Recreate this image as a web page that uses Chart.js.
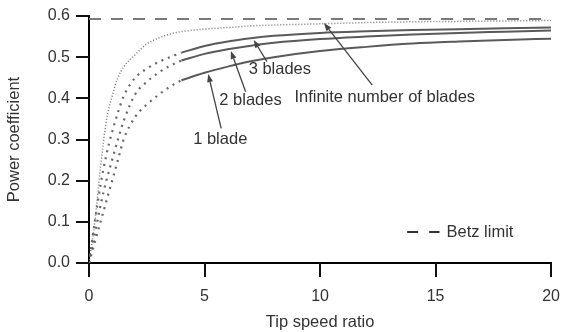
<!DOCTYPE html>
<html>
<head>
<meta charset="utf-8">
<script src="https://cdn.jsdelivr.net/npm/chart.js@4/dist/chart.umd.min.js"></script>
<style>
  html, body { margin: 0; padding: 0; background: #fff; }
  #wrap { width: 571px; height: 332px; }
</style>
</head>
<body>
<div id="wrap"><canvas id="c" width="571" height="332"></canvas></div>
<script>
// ---- data ----
const tsrLow  = [0, 0.25, 0.5, 0.75, 1, 1.25, 1.5, 2, 2.5, 3, 3.5, 4];
const tsrHigh = [4, 5, 6, 7, 8, 10, 12, 14, 16, 18, 20];
const tsrInf  = [0, 0.25, 0.5, 0.75, 1, 1.25, 1.5, 2, 2.5, 3, 3.5, 4, 5, 6, 7, 8, 10, 12, 14, 16, 18, 20];

const cpInfinite = [0, 0.1, 0.234, 0.345, 0.405, 0.45, 0.476, 0.506, 0.532, 0.546, 0.556, 0.562, 0.568, 0.572, 0.576, 0.578, 0.581, 0.584, 0.586, 0.587, 0.588, 0.589];

const cp3Low  = [0, 0.10, 0.19, 0.262, 0.318, 0.365, 0.405, 0.45, 0.472, 0.488, 0.50, 0.511];
const cp2Low  = [0, 0.07, 0.14, 0.20, 0.25, 0.30, 0.345, 0.41, 0.44, 0.462, 0.479, 0.492];
const cp1Low  = [0, 0.05, 0.10, 0.15, 0.20, 0.25, 0.30, 0.355, 0.385, 0.408, 0.428, 0.444];

const cp3High = [0.511, 0.527, 0.538, 0.546, 0.552, 0.559, 0.563, 0.566, 0.568, 0.570, 0.572];
const cp2High = [0.492, 0.508, 0.519, 0.528, 0.535, 0.544, 0.550, 0.555, 0.559, 0.562, 0.565];
const cp1High = [0.444, 0.462, 0.477, 0.490, 0.500, 0.515, 0.525, 0.533, 0.538, 0.542, 0.545];

const betzLimit = 0.593;
const betzRange = [0, 20];

const xTicks = [0, 5, 10, 15, 20];
const yTicks = [0.0, 0.1, 0.2, 0.3, 0.4, 0.5, 0.6];

// annotation texts, anchored in data units
const noteTexts = ['3 blades', '2 blades', '1 blade', 'Infinite number of blades'];
const noteAt    = [[8.26, 0.469], [6.99, 0.396], [5.68, 0.299], [12.8, 0.403]];
const arrowFrom = [[7.70, 0.489], [6.78, 0.416], [5.72, 0.327], [12.26, 0.432]];
const arrowTo   = [[7.13, 0.542], [6.14, 0.515], [5.16, 0.459], [10.17, 0.583]];
const legendText = 'Betz limit';
const legendLine = [[13.77, 15.17], 0.0753];

// ---- build ----
const pts = (xs, ys) => xs.map((v, i) => ({ x: v, y: ys[i] }));
const TICK_LEN = 13;
const FONT = "'Liberation Sans', Arial, Helvetica, sans-serif";

Chart.defaults.font.family = FONT;
Chart.defaults.color = '#333';

const dotStyle = { borderColor: '#666', borderWidth: 2.2, borderDash: [2, 5], pointRadius: 0, cubicInterpolationMode: 'monotone', fill: false };
const solidStyle = { borderColor: '#5a5a5a', borderWidth: 2, pointRadius: 0, cubicInterpolationMode: 'monotone', fill: false };

const notesPlugin = {
  id: 'notes',
  afterDraw(chart) {
    const { ctx, scales: { x, y } } = chart;
    ctx.save();
    ctx.setLineDash([]);
    // outward tick marks as filled bars at the tick values
    ctx.fillStyle = '#111';
    const ax = Math.round(x.getPixelForValue(xTicks[0]));
    const ay = Math.round(y.getPixelForValue(yTicks[0]));
    yTicks.forEach(v => {
      const py = Math.round(y.getPixelForValue(v));
      ctx.fillRect(ax - TICK_LEN, py - 1, TICK_LEN, 2);
    });
    xTicks.forEach(v => {
      const px = Math.round(x.getPixelForValue(v));
      ctx.fillRect(px - 1, ay, 2, TICK_LEN + 1);
    });
    // arrows
    ctx.strokeStyle = '#444';
    ctx.fillStyle = '#444';
    ctx.lineWidth = 1.3;
    arrowFrom.forEach((f, i) => {
      const x1 = x.getPixelForValue(f[0]), y1 = y.getPixelForValue(f[1]);
      const x2 = x.getPixelForValue(arrowTo[i][0]), y2 = y.getPixelForValue(arrowTo[i][1]);
      const ang = Math.atan2(y2 - y1, x2 - x1);
      const hl = 8, hw = 3;
      const bx = x2 - hl * Math.cos(ang), by = y2 - hl * Math.sin(ang);
      ctx.beginPath();
      ctx.moveTo(x1, y1);
      ctx.lineTo(bx, by);
      ctx.stroke();
      ctx.beginPath();
      ctx.moveTo(x2, y2);
      ctx.lineTo(bx + hw * Math.sin(ang), by - hw * Math.cos(ang));
      ctx.lineTo(bx - hw * Math.sin(ang), by + hw * Math.cos(ang));
      ctx.closePath();
      ctx.fill();
    });
    // texts
    ctx.font = '16.5px ' + FONT;
    ctx.fillStyle = '#333';
    ctx.textAlign = 'center';
    ctx.textBaseline = 'middle';
    noteTexts.forEach((t, i) => {
      ctx.fillText(t, x.getPixelForValue(noteAt[i][0]), y.getPixelForValue(noteAt[i][1]));
    });
    // legend for Betz limit
    const lx1 = x.getPixelForValue(legendLine[0][0]);
    const lx2 = x.getPixelForValue(legendLine[0][1]);
    const ly = y.getPixelForValue(legendLine[1]);
    ctx.strokeStyle = '#333';
    ctx.lineWidth = 2;
    ctx.setLineDash([11, 11]);
    ctx.beginPath();
    ctx.moveTo(lx1, ly);
    ctx.lineTo(lx2, ly);
    ctx.stroke();
    ctx.setLineDash([]);
    ctx.textAlign = 'left';
    ctx.fillText(legendText, lx2 + 7, ly);
    ctx.restore();
  }
};

new Chart(document.getElementById('c'), {
  type: 'line',
  data: {
    datasets: [
      { label: 'Betz limit', data: pts(betzRange, [betzLimit, betzLimit]), borderColor: '#7a7a7a', borderWidth: 2, borderDash: [12, 10], pointRadius: 0, fill: false },
      { label: 'Infinite number of blades', data: pts(tsrInf, cpInfinite), borderColor: '#777', borderWidth: 1.5, borderDash: [1, 2], pointRadius: 0, cubicInterpolationMode: 'monotone', fill: false },
      Object.assign({ label: '3 blades (low)', data: pts(tsrLow, cp3Low) }, dotStyle),
      Object.assign({ label: '2 blades (low)', data: pts(tsrLow, cp2Low) }, dotStyle),
      Object.assign({ label: '1 blade (low)', data: pts(tsrLow, cp1Low) }, dotStyle),
      Object.assign({ label: '3 blades', data: pts(tsrHigh, cp3High) }, solidStyle),
      Object.assign({ label: '2 blades', data: pts(tsrHigh, cp2High) }, solidStyle),
      Object.assign({ label: '1 blade', data: pts(tsrHigh, cp1High) }, solidStyle)
    ]
  },
  options: {
    responsive: false,
    animation: false,
    devicePixelRatio: 1,
    layout: { padding: { left: 0, right: 9, top: 16, bottom: 0 } },
    plugins: { legend: { display: false }, tooltip: { enabled: false } },
    scales: {
      x: {
        type: 'linear', min: xTicks[0], max: xTicks[xTicks.length - 1],
        afterFit: s => { s.height = 69; },
        ticks: { stepSize: 5, padding: 11, font: { size: 16 }, color: '#333' },
        grid: { drawOnChartArea: false, drawTicks: true, tickLength: TICK_LEN, color: '#000', lineWidth: 2 },
        border: { display: true, color: '#000', width: 2 },
        title: { display: true, text: 'Tip speed ratio', font: { size: 16.5 }, color: '#333', padding: { top: 1, bottom: 0 } }
      },
      y: {
        type: 'linear', min: yTicks[0], max: yTicks[yTicks.length - 1],
        afterFit: s => { s.width = 89; },
        ticks: { stepSize: 0.1, padding: 6, font: { size: 16 }, color: '#333', callback: v => Number(v).toFixed(1) },
        grid: { drawOnChartArea: false, drawTicks: true, tickLength: TICK_LEN, color: '#000', lineWidth: 2 },
        border: { display: true, color: '#000', width: 2 },
        title: { display: true, text: 'Power coefficient', font: { size: 16.5 }, color: '#333', padding: { top: 5, bottom: 4 } }
      }
    }
  },
  plugins: [notesPlugin]
});
</script>
</body>
</html>
